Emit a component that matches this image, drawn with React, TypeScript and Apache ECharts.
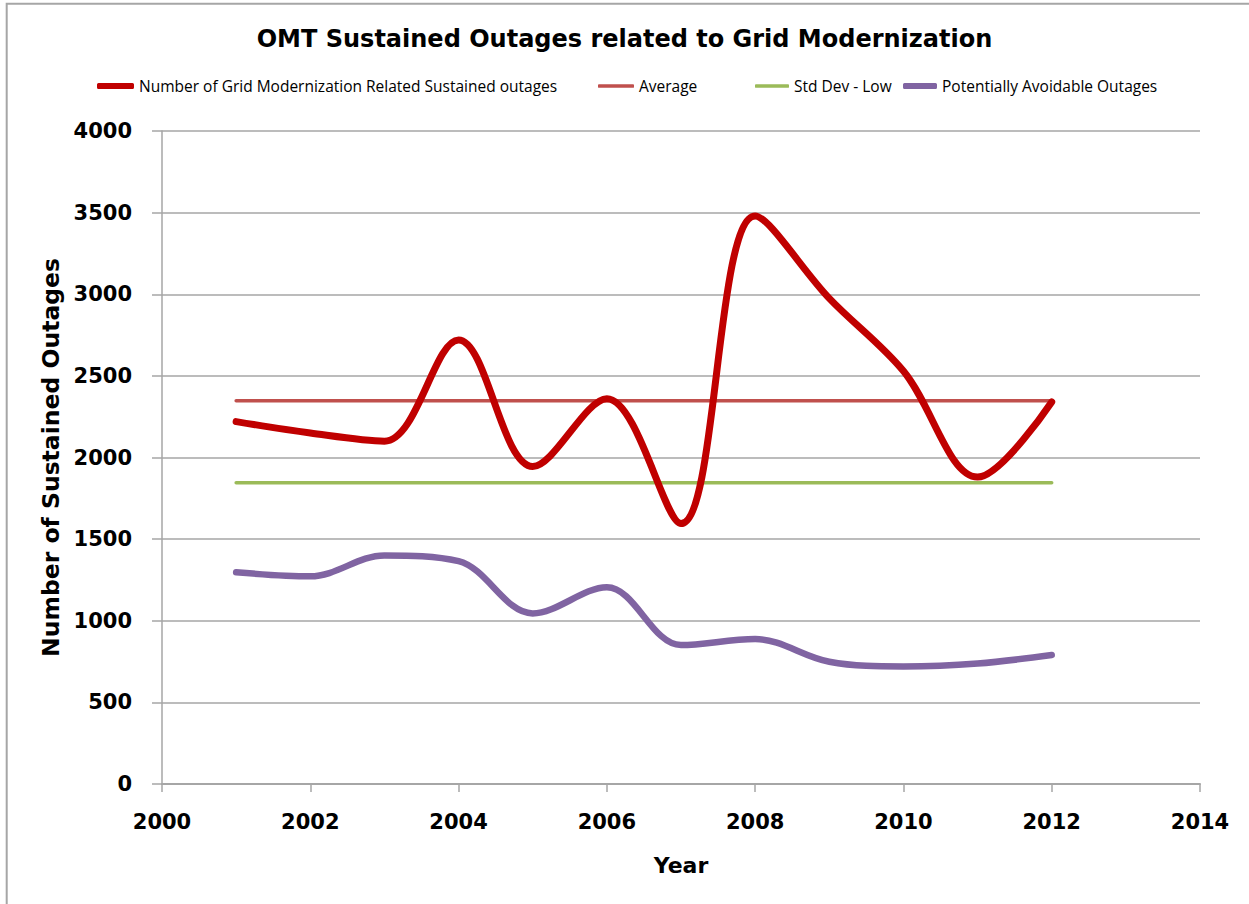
import React, { useEffect, useRef } from "react";
import * as echarts from "echarts";

const years = [2001, 2002, 2003, 2004, 2005, 2006, 2007, 2008, 2009, 2010, 2011, 2012];
const gridModOutages = [2220, 2150, 2100, 2720, 1945, 2360, 1595, 3480, 2975, 2530, 1880, 2340];
const averageValues = [2347, 2347, 2347, 2347, 2347, 2347, 2347, 2347, 2347, 2347, 2347, 2347];
const stdDevLowValues = [1845, 1845, 1845, 1845, 1845, 1845, 1845, 1845, 1845, 1845, 1845, 1845];
const avoidableOutages = [1297, 1272, 1400, 1365, 1045, 1205, 851, 888, 749, 720, 738, 790];

const seriesNames = [
  "Number of Grid Modernization Related Sustained outages",
  "Average",
  "Std Dev - Low",
  "Potentially Avoidable Outages",
];
const seriesColors = ["#c00000", "#c0504d", "#9bbb59", "#8064a2"];

const pairs = (vals: number[]) => years.map((y, i) => [y, vals[i]]);

export default function App() {
  const ref = useRef<HTMLDivElement>(null);
  useEffect(() => {
    if (!ref.current) return;
    const chart = echarts.init(ref.current, null, { renderer: "svg" });
    const gray = "#a6a6a6";
    const legendText = { fontFamily: "Open Sans", fontSize: 15.5, color: "#000" };
    const mkLegend = (idx: number, left: number, w: number, h: number) => ({
      data: [seriesNames[idx]],
      left,
      top: 78,
      padding: 0,
      itemWidth: w,
      itemHeight: h,
      itemGap: 0,
      icon: "roundRect",
      textStyle: legendText,
      selectedMode: false,
    });
    chart.setOption({
      animation: false,
      backgroundColor: "#ffffff",
      title: {
        text: "OMT Sustained Outages related to Grid Modernization",
        left: "center",
        top: 22,
        textStyle: { fontFamily: "DejaVu Sans", fontWeight: "bold", fontSize: 24, color: "#000" },
      },
      legend: [
        mkLegend(0, 97, 37, 6),
        mkLegend(1, 598, 36, 3.5),
        mkLegend(2, 755, 34, 3.5),
        mkLegend(3, 903, 34, 6),
      ],
      grid: { left: 162, right: 49, top: 131, bottom: 120 },
      xAxis: {
        type: "value",
        min: 2000,
        max: 2014,
        interval: 2,
        name: "Year",
        nameLocation: "middle",
        nameGap: 70,
        nameTextStyle: { fontFamily: "DejaVu Sans", fontWeight: "bold", fontSize: 22, color: "#000" },
        axisLine: { show: true, lineStyle: { color: gray, width: 2 } },
        axisTick: { show: true, length: 8, lineStyle: { color: gray, width: 1.5 } },
        splitLine: { show: false },
        axisLabel: {
          margin: 27,
          fontFamily: "DejaVu Sans",
          fontWeight: "bold",
          fontSize: 21,
          color: "#000",
          formatter: (v: number) => String(v),
        },
      },
      yAxis: {
        type: "value",
        min: 0,
        max: 4000,
        interval: 500,
        name: "Number of Sustained Outages",
        nameLocation: "middle",
        nameGap: 93,
        nameTextStyle: { fontFamily: "DejaVu Sans", fontWeight: "bold", fontSize: 23.5, color: "#000" },
        axisLine: { show: true, lineStyle: { color: gray, width: 1.5 } },
        axisTick: { show: true, length: 10, lineStyle: { color: gray, width: 1.5 } },
        splitLine: { show: true, lineStyle: { color: gray, width: 1.5 } },
        axisLabel: {
          margin: 30,
          fontFamily: "DejaVu Sans",
          fontWeight: "bold",
          fontSize: 21,
          color: "#000",
          formatter: (v: number) => String(v),
        },
      },
      graphic: [
        {
          type: "rect",
          shape: { x: 6.7, y: 3.7, width: 1400, height: 1100 },
          style: { fill: "none", stroke: gray, lineWidth: 2 },
          silent: true,
        },
      ],
      series: [
        {
          name: seriesNames[0],
          type: "line",
          data: pairs(gridModOutages),
          smooth: 0.35,
          symbol: "none",
          z: 4,
          itemStyle: { color: seriesColors[0] },
          lineStyle: { color: seriesColors[0], width: 7, cap: "round", join: "round" },
        },
        {
          name: seriesNames[1],
          type: "line",
          data: pairs(averageValues),
          symbol: "none",
          z: 3,
          itemStyle: { color: seriesColors[1] },
          lineStyle: { color: seriesColors[1], width: 3.5, cap: "round" },
        },
        {
          name: seriesNames[2],
          type: "line",
          data: pairs(stdDevLowValues),
          symbol: "none",
          z: 3,
          itemStyle: { color: seriesColors[2] },
          lineStyle: { color: seriesColors[2], width: 3.5, cap: "round" },
        },
        {
          name: seriesNames[3],
          type: "line",
          data: pairs(avoidableOutages),
          smooth: 0.35,
          symbol: "none",
          z: 4,
          itemStyle: { color: seriesColors[3] },
          lineStyle: { color: seriesColors[3], width: 6.5, cap: "round", join: "round" },
        },
      ],
    });
    return () => chart.dispose();
  }, []);
  return (
    <div
      ref={ref}
      style={{ position: "fixed", left: 0, top: 0, width: 1249, height: 904, background: "#fff" }}
    />
  );
}
